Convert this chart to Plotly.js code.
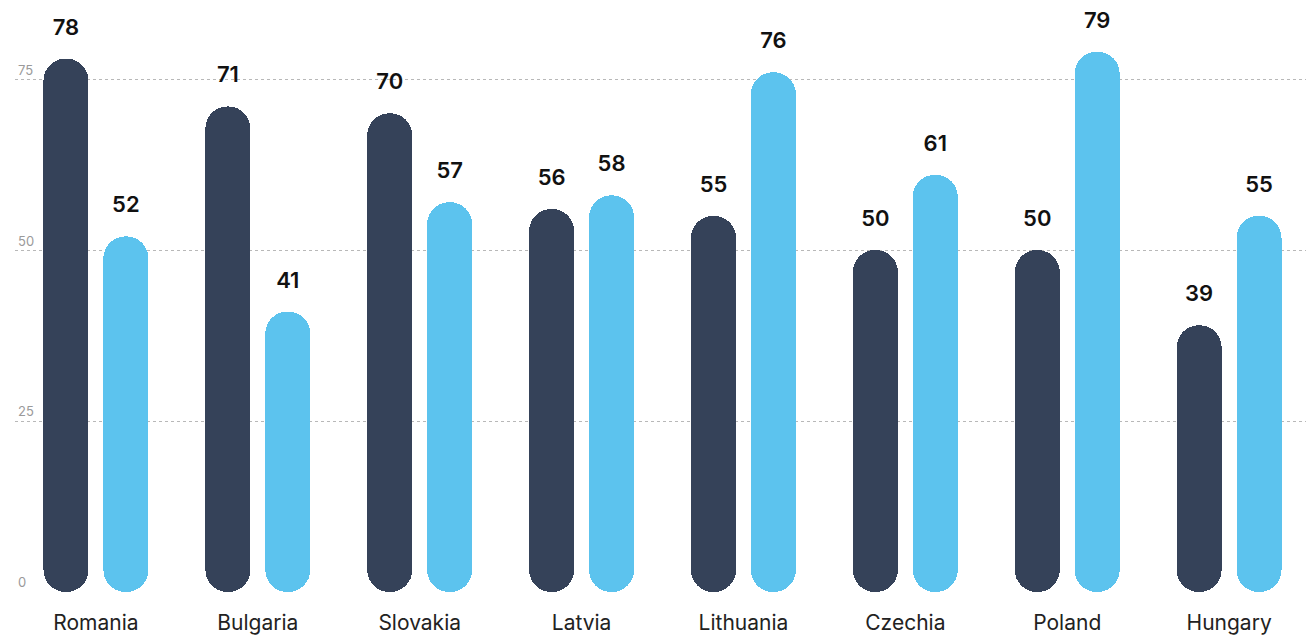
<!DOCTYPE html>
<html>
<head>
<meta charset="utf-8">
<script src="https://cdn.plot.ly/plotly-3.0.1.min.js"></script>
<style>html,body{margin:0;padding:0;background:#fff;}#chart{width:1306px;height:638px;}</style>
</head>
<body>
<div id="chart"></div>
<script>
const categories = ["Romania","Bulgaria","Slovakia","Latvia","Lithuania","Czechia","Poland","Hungary"];
const seriesDark = [78, 71, 70, 56, 55, 50, 50, 39];
const seriesBlue = [52, 41, 57, 58, 76, 61, 79, 55];
const yTicks = [0, 25, 50, 75];

const DARK = "#354259";
const BLUE = "#5CC3EE";
const BAR_W = 0.278;
const SHIFT = 0.185;
const idx = categories.map((c, i) => i);

function pillTrace(values, color, shift) {
  return {
    type: "bar", x: idx, width: BAR_W, offset: shift - BAR_W / 2,
    base: values.map(() => 0), y: values,
    marker: {color: color, cornerradius: "50%", line: {width: 0}},
    hoverinfo: "skip", showlegend: false
  };
}

function labelTrace(values, shift) {
  return {
    type: "scatter", mode: "markers+text",
    x: idx.map(i => i + shift), y: values,
    text: values.map(String), textposition: "top center",
    textfont: {family: "Inter, sans-serif", size: 22, color: "#111", weight: 600},
    marker: {size: 28, color: "rgba(0,0,0,0)"},
    hoverinfo: "skip", showlegend: false, cliponaxis: false
  };
}

const data = [
  pillTrace(seriesDark, DARK, -SHIFT),
  pillTrace(seriesBlue, BLUE, SHIFT),
  labelTrace(seriesDark, -SHIFT),
  labelTrace(seriesBlue, SHIFT)
];

const layout = {
  width: 1306, height: 638,
  margin: {l: 15, r: 0, t: 10, b: 46},
  paper_bgcolor: "#fff", plot_bgcolor: "#fff",
  barmode: "overlay", bargap: 0, bargroupgap: 0,
  showlegend: false,
  xaxis: {
    type: "linear", range: [-0.5, 7.475],
    tickvals: idx, ticktext: categories,
    showgrid: false, zeroline: false, showline: false, ticks: "",
    ticklabelstandoff: 16,
    tickfont: {family: "Inter, sans-serif", size: 21, color: "#222"},
    fixedrange: true
  },
  yaxis: {
    range: [0, 85.1],
    tickvals: yTicks, ticktext: yTicks.map(String),
    ticklabelposition: "inside top",
    showgrid: true, gridcolor: "#b8b8b8", griddash: "dot", gridwidth: 1,
    zeroline: false, showline: false, ticks: "",
    tickfont: {family: "Inter, sans-serif", size: 13, color: "#9a9a9a"},
    fixedrange: true
  }
};

Plotly.newPlot("chart", data, layout, {displayModeBar: false, staticPlot: true});
</script>
</body>
</html>
